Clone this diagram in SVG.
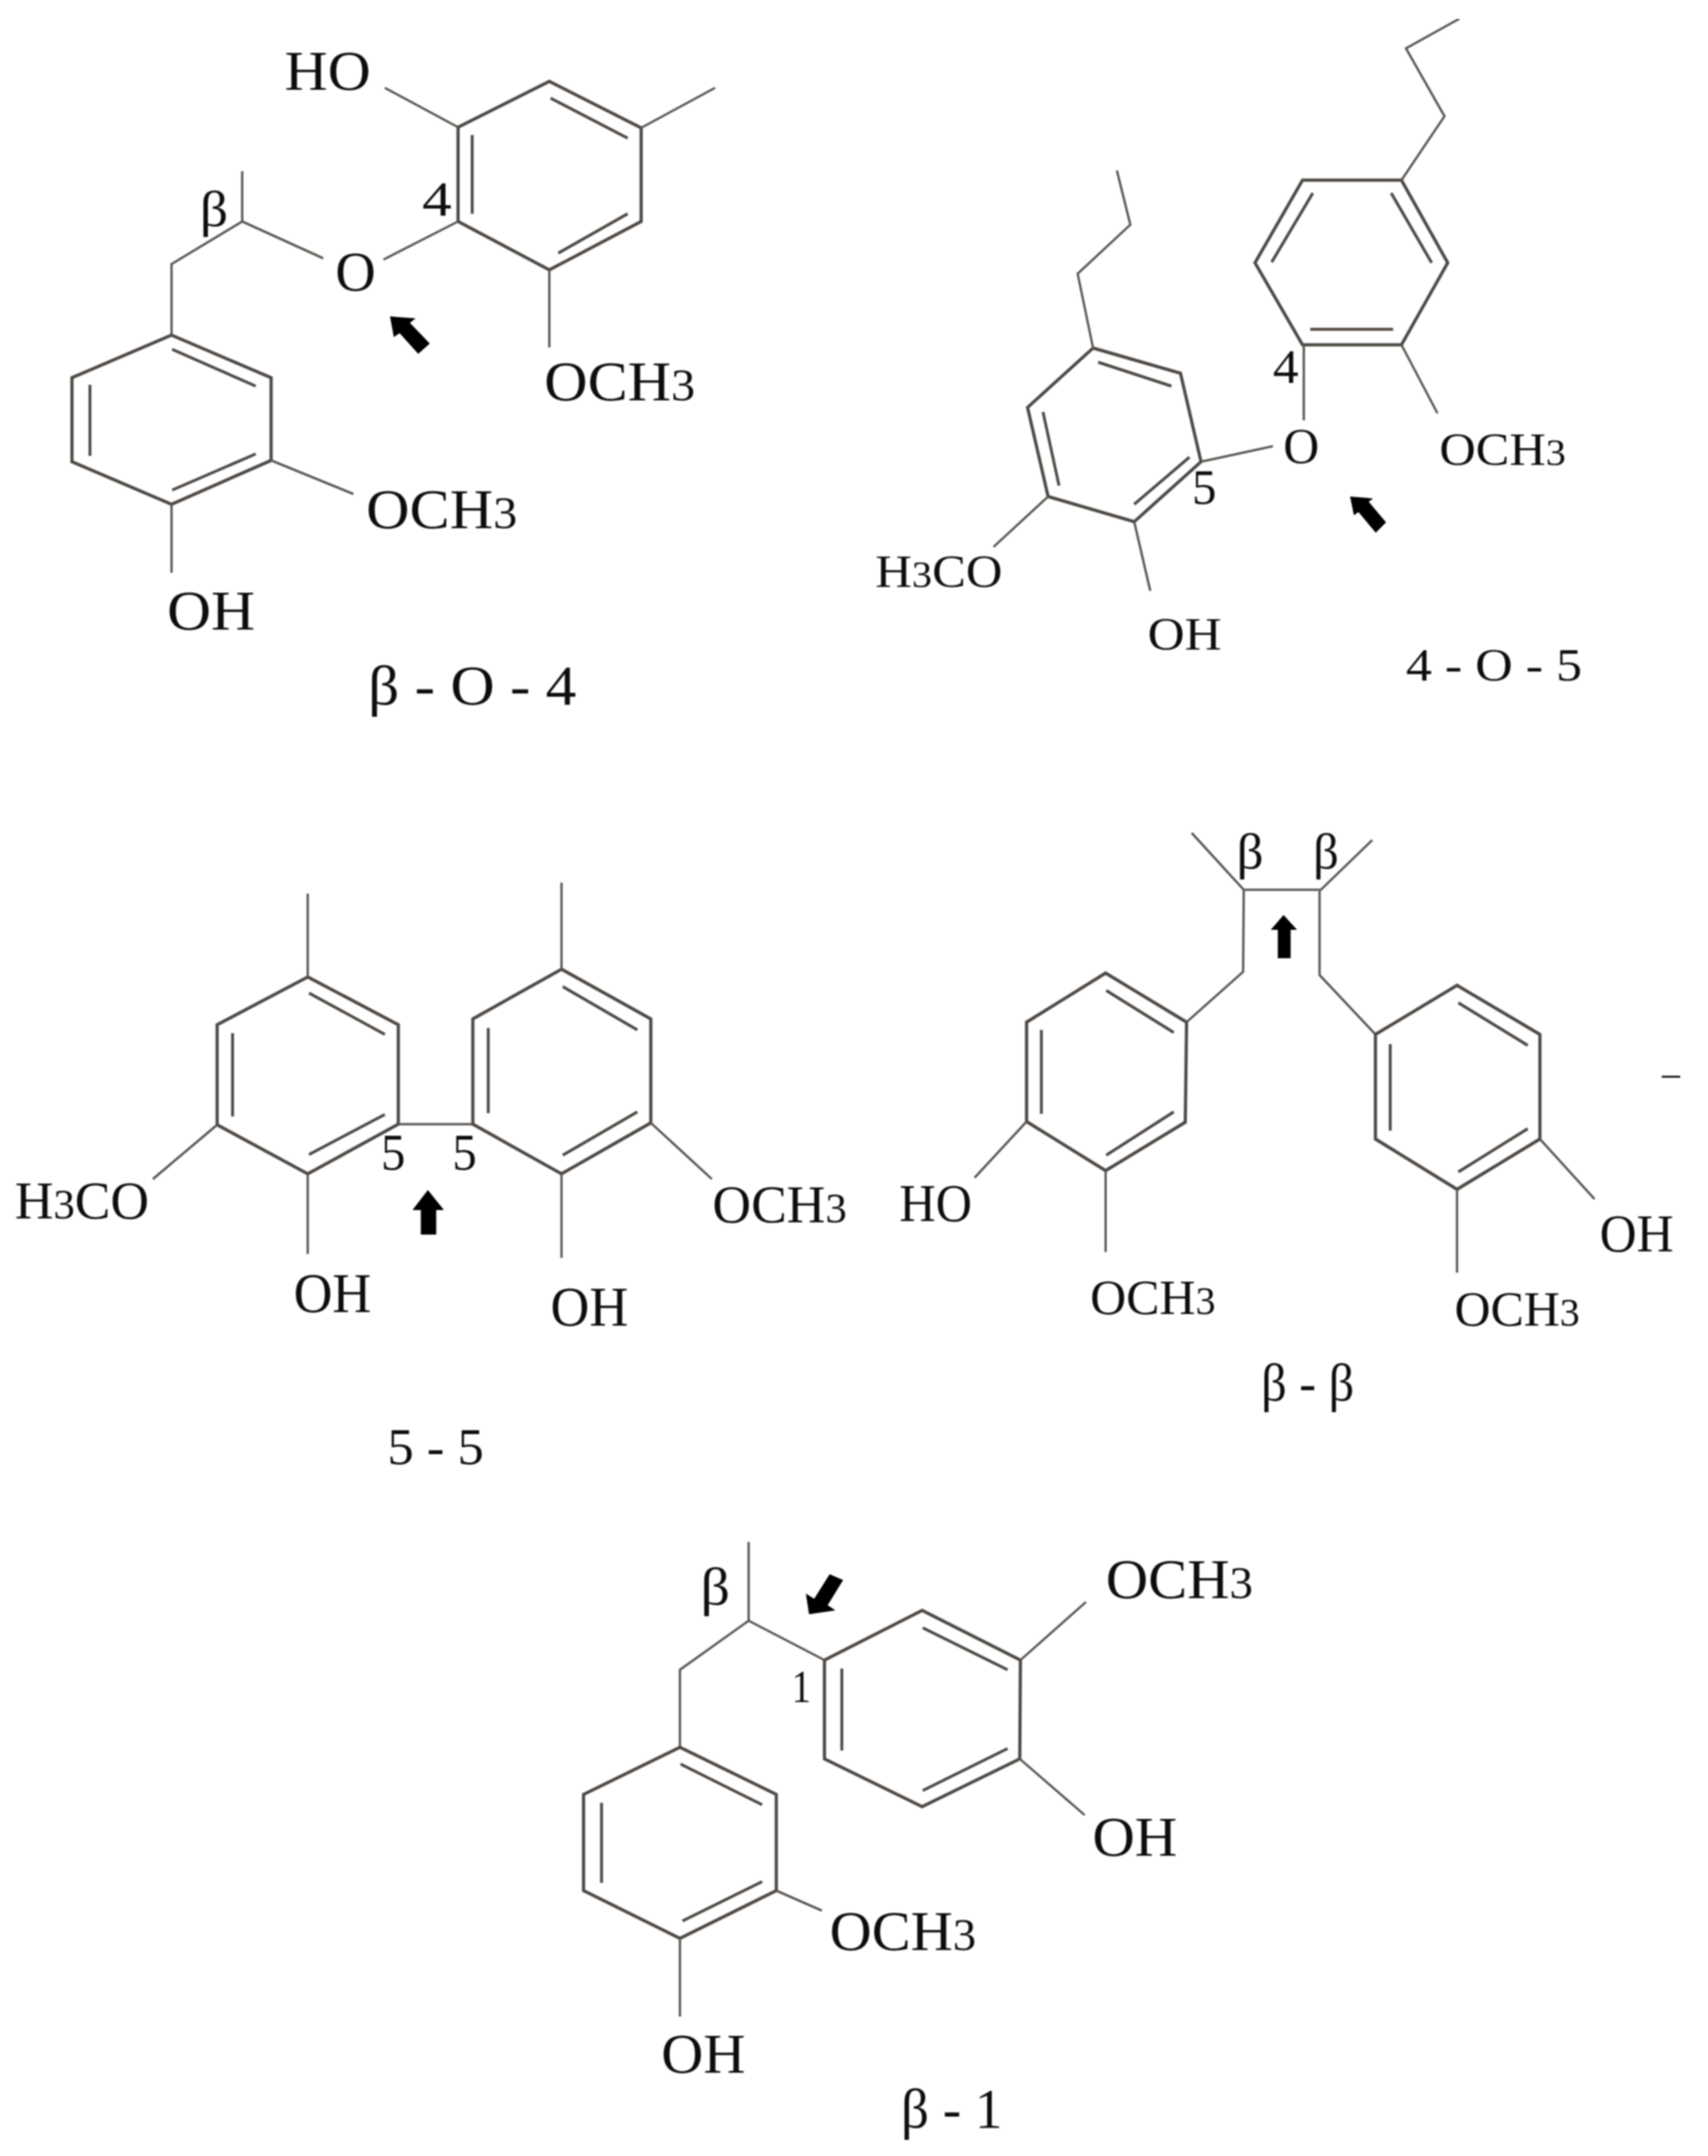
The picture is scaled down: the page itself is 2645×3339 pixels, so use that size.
<svg xmlns="http://www.w3.org/2000/svg" width="2645" height="3339" viewBox="0 0 2645 3339">
<style>
.ring{fill:none;stroke:#4f4a45;stroke-width:5;stroke-linejoin:miter}
.dbl{fill:none;stroke:#4f4a45;stroke-width:4.5}
.bond{fill:none;stroke:#5a5651;stroke-width:3.6}
.arw{fill:#000}
text{font-family:"Liberation Serif","Times New Roman",serif;fill:#111}
.s{font-size:.8em}
</style>
<defs><filter id="soft" x="0" y="0" width="100%" height="100%"><feGaussianBlur stdDeviation="0.8"/></filter></defs>
<rect width="2645" height="3339" fill="#fff"/>
<g filter="url(#soft)">
<g id="beta-O-4" transform="scale(.9949,1)">
<g id="b04-bonds">
<polygon class="ring" points="855,126 998,198 998,343 855,418 713,343 713,197"/>
<path class="dbl" d="M857,152L977,214M735,209V331M869,392L977,331"/>
<path class="bond" d="M998,198L1113,136M713,197L599,136M855,418V538M713,343L597,402M503,400L377,343V265M377,343L267,409V519"/>
<polygon class="ring" points="267,519 422,585 422,713 267,781 112,715 112,585"/>
<path class="dbl" d="M268,541L398,598M398,703L268,759M140,596V706"/>
<path class="bond" d="M422,713L550,765M267,781V887"/>
</g>
<polygon class="arw" points="607,490 647,493 638,500 669,532 651,548 622,516 613,522"/>
<text x="443" y="139" font-size="86" textLength="134" lengthAdjust="spacingAndGlyphs">HO</text>
<text x="311" y="350" font-size="78" textLength="44" lengthAdjust="spacingAndGlyphs">β</text>
<text x="657" y="334" font-size="76" textLength="46" lengthAdjust="spacingAndGlyphs">4</text>
<text x="522" y="450" font-size="86" textLength="63" lengthAdjust="spacingAndGlyphs">O</text>
<text x="847" y="620" font-size="86" textLength="235" lengthAdjust="spacingAndGlyphs">OCH<tspan class="s">3</tspan></text>
<text x="570" y="818" font-size="86" textLength="235" lengthAdjust="spacingAndGlyphs">OCH<tspan class="s">3</tspan></text>
<text x="260" y="975" font-size="86" textLength="137" lengthAdjust="spacingAndGlyphs">OH</text>
<text x="573" y="1091" font-size="86" textLength="324" lengthAdjust="spacingAndGlyphs">β - O - 4</text>
</g>

<g id="4-O-5" transform="translate(6.4,0) scale(.9949,1)">
<g id="405-bonds">
<polygon class="ring" points="2021,279 2175,279 2247,407 2175,534 2021,534 1947,407"/>
<path class="dbl" d="M2159,299L2222,407M2033,510H2162M1973,406L2037,299"/>
<path class="bond" d="M2175,279L2242,180L2182,75L2265,29M2175,534L2231,640M2023,534V651"/>
<polygon class="ring" points="1695,539 1831,578 1863,715 1759,808 1625,769 1593,631"/>
<path class="dbl" d="M1703,561L1817,598M1845,708L1759,781M1642,752L1617,638"/>
<path class="bond" d="M1695,539L1671,424L1753,348L1732,264M1863,715L1975,691M1625,769L1540,847M1759,808L1784,915"/>
</g>
<polygon class="arw" points="2095,769 2131,772 2124,777 2151,809 2135,825 2108,793 2101,798"/>
<text x="1991" y="717" font-size="78" textLength="56" lengthAdjust="spacingAndGlyphs">O</text>
<text x="2234" y="720" font-size="72" textLength="197" lengthAdjust="spacingAndGlyphs">OCH<tspan class="s">3</tspan></text>
<text x="1975" y="593" font-size="75" textLength="40" lengthAdjust="spacingAndGlyphs">4</text>
<text x="1849" y="780" font-size="76" textLength="38" lengthAdjust="spacingAndGlyphs">5</text>
<text x="1356" y="909" font-size="72" textLength="198" lengthAdjust="spacingAndGlyphs">H<tspan class="s">3</tspan>CO</text>
<text x="1780" y="1006" font-size="72" textLength="115" lengthAdjust="spacingAndGlyphs">OH</text>
<text x="2182" y="1054" font-size="72" textLength="274" lengthAdjust="spacingAndGlyphs">4 - O - 5</text>
</g>

<g id="5-5" transform="scale(.9949,1)">
<g id="55-bonds">
<polygon class="ring" points="479,1513 620,1587 620,1741 479,1818 338,1742 338,1587"/>
<path class="dbl" d="M481,1538L599,1602M599,1726L481,1788M362,1600V1729"/>
<path class="bond" d="M479,1513V1384M479,1818V1942M338,1742L238,1826M620,1741H736"/>
<polygon class="ring" points="874,1501 1013,1578 1013,1739 874,1818 736,1741 736,1578"/>
<path class="dbl" d="M876,1528L992,1595M992,1722L876,1789M760,1592V1724"/>
<path class="bond" d="M874,1501V1367M874,1818V1948M1013,1739L1108,1826"/>
</g>
<polygon class="arw" points="666,1843 691,1874 679,1874 679,1912 655,1912 655,1874 642,1874"/>
<text x="23" y="1887" font-size="82" textLength="209" lengthAdjust="spacingAndGlyphs">H<tspan class="s">3</tspan>CO</text>
<text x="1109" y="1893" font-size="82" textLength="209" lengthAdjust="spacingAndGlyphs">OCH<tspan class="s">3</tspan></text>
<text x="457" y="2032" font-size="86" textLength="121" lengthAdjust="spacingAndGlyphs">OH</text>
<text x="857" y="2053" font-size="86" textLength="121" lengthAdjust="spacingAndGlyphs">OH</text>
<text x="593" y="1812" font-size="80" textLength="38" lengthAdjust="spacingAndGlyphs">5</text>
<text x="704" y="1812" font-size="80" textLength="38" lengthAdjust="spacingAndGlyphs">5</text>
<text x="603" y="2268" font-size="80" textLength="150" lengthAdjust="spacingAndGlyphs">5 - 5</text>
</g>

<g id="beta-beta" transform="translate(6.9,0) scale(.9949,1)">
<g id="bb-bonds">
<path class="bond" d="M1848,1290L1929,1378H2049L2129,1301M1929,1378L1928,1505L1840,1583M2047,1380V1510L2134,1602"/>
<polygon class="ring" points="1714,1507 1840,1583 1838,1738 1714,1813 1591,1737 1591,1583"/>
<path class="dbl" d="M1715,1534L1820,1599M1820,1722L1715,1789M1614,1595V1725"/>
<path class="bond" d="M1591,1737L1510,1824M1714,1813V1939"/>
<polygon class="ring" points="2261,1526 2390,1602 2390,1764 2261,1842 2134,1764 2134,1602"/>
<path class="dbl" d="M2263,1553L2371,1619M2371,1748L2263,1815M2157,1617V1751"/>
<path class="bond" d="M2390,1764L2475,1857M2261,1842V1971"/>
</g>
<polygon class="arw" points="1991,1417 2012,1440 2002,1440 2002,1484 1982,1484 1982,1440 1971,1440"/>
<text x="1393" y="1891" font-size="82" textLength="113" lengthAdjust="spacingAndGlyphs">HO</text>
<text x="1690" y="2035" font-size="77" textLength="195" lengthAdjust="spacingAndGlyphs">OCH<tspan class="s">3</tspan></text>
<text x="2257" y="2053" font-size="77" textLength="195" lengthAdjust="spacingAndGlyphs">OCH<tspan class="s">3</tspan></text>
<text x="2483" y="1938" font-size="82" textLength="115" lengthAdjust="spacingAndGlyphs">OH</text>
<text x="1918" y="1345" font-size="78" textLength="42" lengthAdjust="spacingAndGlyphs">β</text>
<text x="2037" y="1345" font-size="78" textLength="40" lengthAdjust="spacingAndGlyphs">β</text>
<text x="1956" y="2169" font-size="82" textLength="145" lengthAdjust="spacingAndGlyphs">β - β</text>
<text x="2580" y="1681" font-size="60" textLength="28" lengthAdjust="spacingAndGlyphs">–</text>
</g>

<g id="beta-1" transform="translate(4.3,0) scale(.9949,1)">
<g id="b1-bonds">
<polygon class="ring" points="1431,2494 1584,2571 1583,2724 1431,2798 1279,2724 1279,2571"/>
<path class="dbl" d="M1432,2521L1564,2586M1564,2708L1432,2773M1306,2584V2711"/>
<path class="bond" d="M1279,2571L1161,2510V2388M1161,2510L1054,2586V2706"/>
<polygon class="ring" points="1054,2706 1204,2779 1204,2928 1054,3002 904,2928 904,2779"/>
<path class="dbl" d="M1055,2732L1182,2795M1182,2914L1058,2975M932,2792V2916"/>
<path class="bond" d="M1204,2928L1275,2959M1054,3002V3123M1584,2571L1686,2481M1583,2724L1684,2811"/>
</g>
<polygon class="arw" points="1255,2500 1296,2494 1284,2486 1308,2447 1287,2438 1263,2476 1250,2468"/>
<text x="1717" y="2475" font-size="86" textLength="229" lengthAdjust="spacingAndGlyphs">OCH<tspan class="s">3</tspan></text>
<text x="1287" y="3020" font-size="86" textLength="228" lengthAdjust="spacingAndGlyphs">OCH<tspan class="s">3</tspan></text>
<text x="1696" y="2874" font-size="86" textLength="132" lengthAdjust="spacingAndGlyphs">OH</text>
<text x="1025" y="3210" font-size="86" textLength="131" lengthAdjust="spacingAndGlyphs">OH</text>
<text x="1086" y="2485" font-size="82" textLength="46" lengthAdjust="spacingAndGlyphs">β</text>
<text x="1228" y="2636" font-size="72" textLength="30" lengthAdjust="spacingAndGlyphs">1</text>
<text x="1398" y="3295" font-size="86" textLength="158" lengthAdjust="spacingAndGlyphs">β - 1</text>
</g>
</g>
</svg>
